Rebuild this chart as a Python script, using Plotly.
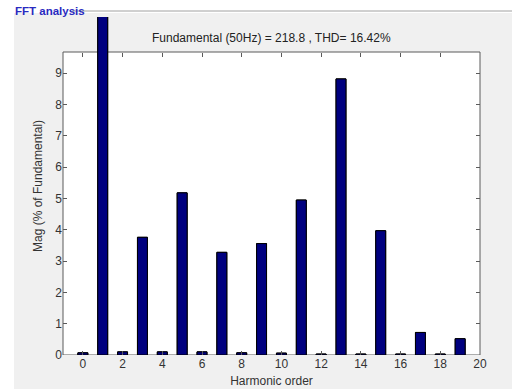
import plotly.graph_objects as go

harmonics = list(range(0, 20))
magnitude = [0.07, 100.0, 0.10, 3.76, 0.10, 5.18, 0.10, 3.28, 0.07, 3.56,
             0.06, 4.95, 0.03, 8.82, 0.03, 3.97, 0.03, 0.72, 0.03, 0.52]
x_ticks = list(range(0, 21, 2))
y_ticks = list(range(0, 10))

title_text = "Fundamental (50Hz) = 218.8 , THD= 16.42%"
panel_title = "FFT analysis"

W, H = 512, 389
L, R, T, B = 63, 480, 52, 355   # axes box in pixels
TOP_CLIP = 17                    # panel inner top: bars are clipped here
X_RANGE = [-1, 20]
Y_MAX = 9.68

dom_top = (B - T) / (B - TOP_CLIP)
y_full_max = Y_MAX / dom_top
AX = "#5a5a5a"


def px(x):
    return (x - L) / (R - L)


def py(y):
    return (B - y) / (B - TOP_CLIP)


bar_style = dict(color="#00007f", line=dict(color="#000000", width=1))

fig = go.Figure()
fig.add_trace(go.Bar(x=harmonics, y=magnitude, width=0.5, xaxis="x", yaxis="y",
                     marker=bar_style, hoverinfo="skip"))
fig.add_trace(go.Bar(x=harmonics, y=magnitude, width=0.5, xaxis="x2", yaxis="y",
                     marker=bar_style, hoverinfo="skip"))

tick_common = dict(ticks="inside", ticklen=4, tickcolor=AX, showgrid=False, zeroline=False,
                   showline=False, automargin=False,
                   tickfont=dict(family="Liberation Sans, Arial", size=12, color="#333333"))

fig.update_layout(
    width=W, height=H,
    margin=dict(l=L, r=W - R, t=TOP_CLIP, b=H - B),
    paper_bgcolor="#f0f0f0", plot_bgcolor="#f0f0f0",
    showlegend=False, barmode="overlay",
    font=dict(family="Liberation Sans, Arial", size=12, color="#333333"),
    xaxis=dict(range=X_RANGE, tickvals=x_ticks, anchor="y",
               title=dict(text="Harmonic order", standoff=6, font=dict(size=12, color="#333333")),
               **tick_common),
    xaxis2=dict(range=X_RANGE, tickvals=x_ticks, overlaying="x", anchor="free", position=dom_top,
                side="top", showticklabels=False, **tick_common),
    yaxis=dict(range=[0, y_full_max], tickvals=y_ticks, domain=[0, 1], anchor="x", mirror="ticks",
               title=dict(text="Mag (% of Fundamental)", standoff=10, font=dict(size=12, color="#333333")),
               **tick_common),
    shapes=[
        dict(type="rect", xref="x domain", yref="y", x0=0, x1=1, y0=0, y1=Y_MAX,
             fillcolor="#ffffff", line=dict(color=AX, width=1), layer="below"),
        dict(type="rect", xref="paper", yref="paper", x0=px(-10), x1=px(W + 10), y0=py(13), y1=py(-10),
             fillcolor="#ffffff", line=dict(width=0), layer="above"),
        dict(type="rect", xref="paper", yref="paper", x0=px(-10), x1=px(14), y0=py(H + 10), y1=py(-10),
             fillcolor="#ffffff", line=dict(width=0), layer="above"),
        dict(type="line", xref="paper", yref="paper", x0=px(72), x1=px(W + 10), y0=py(11), y1=py(11),
             line=dict(color="#a0a0a0", width=1), layer="above"),
    ],
    annotations=[
        dict(text="<b>" + panel_title + "</b>", xref="paper", yref="paper", x=px(13), y=py(11),
             xanchor="left", yanchor="middle", showarrow=False,
             font=dict(family="Liberation Sans, Arial", size=11.5, color="#2a2ac0")),
        dict(text=title_text, xref="paper", yref="paper", x=0.5, y=py(38), xanchor="center",
             yanchor="middle", showarrow=False,
             font=dict(family="Liberation Sans, Arial", size=12, color="#222222")),
    ],
)

fig.write_html("out.html", config={"displayModeBar": False},
               post_script="document.body.style.margin='0';")
